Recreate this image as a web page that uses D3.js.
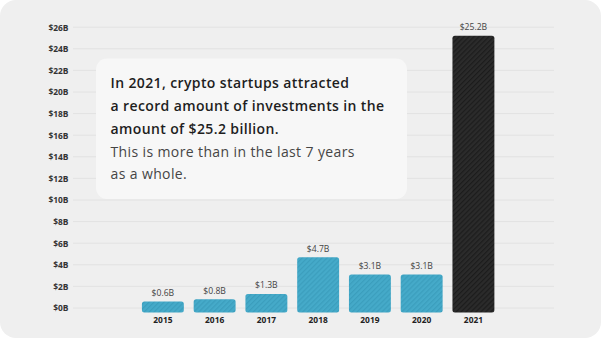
<!DOCTYPE html>
<html><head><meta charset="utf-8">
<script src="https://cdn.jsdelivr.net/npm/d3@7"></script>
<style>html,body{margin:0;padding:0;background:#fff;}svg{display:block;}</style>
</head><body>
<svg id="c" width="602" height="339"></svg>
<script>
const years = ["2015","2016","2017","2018","2019","2020","2021"];
const values = [0.6, 0.8, 1.3, 4.7, 3.1, 3.1, 25.2];
const valueLabels = ["$0.6B","$0.8B","$1.3B","$4.7B","$3.1B","$3.1B","$25.2B"];
const yTicks = [0,2,4,6,8,10,12,14,16,18,20,22,24,26];
const noteBold = ["In 2021, crypto startups attracted","a record amount of investments in the","amount of $25.2 billion."];
const noteLight = ["This is more than in the last 7 years","as a whole."];

const FONT = "'Open Sans', 'Noto Sans', sans-serif";
const svg = d3.select("#c");
const defs = svg.append("defs");
function hatch(id, base, stripe){
  const p = defs.append("pattern").attr("id", id).attr("patternUnits","userSpaceOnUse")
    .attr("width",3.5).attr("height",3.5).attr("patternTransform","rotate(45)");
  p.append("rect").attr("width",3.5).attr("height",3.5).attr("fill",base);
  p.append("rect").attr("width",1.2).attr("height",3.5).attr("fill",stripe);
}
hatch("hb","#45aac9","#3b9ebd");
hatch("hk","#2b2b2b","#1c1c1c");

svg.append("rect").attr("x",0).attr("y",0).attr("width",601).attr("height",338)
  .attr("rx",16).attr("fill","#efefef");

const y = d3.scaleLinear().domain([0,26]).range([308,27.2]);
const x = d3.scaleBand().domain(years).range([137,499.3]).paddingInner(0.19).paddingOuter(0.095);

// grid
svg.append("g").selectAll("line").data(yTicks).join("line")
  .attr("x1",73).attr("x2",554).attr("y1",d=>y(d)).attr("y2",d=>y(d))
  .attr("stroke","#e2e2e2").attr("stroke-width",1);

// y axis labels
const yAxis = d3.axisLeft(y).tickValues(yTicks).tickSize(0).tickPadding(0).tickFormat(d=>"$"+d+"B");
const ga = svg.append("g").attr("transform","translate(68.5,0)").call(yAxis);
ga.select(".domain").remove();
ga.selectAll("text").attr("font-family",FONT).attr("font-size",8.4).attr("font-weight",700)
  .attr("fill","#333").attr("dy","0.35em");

// bars
const data = years.map((yr,i)=>({yr, v:values[i], lab:valueLabels[i]}));
svg.append("g").selectAll("rect").data(data).join("rect")
  .attr("x",d=>x(d.yr)).attr("width",x.bandwidth())
  .attr("y",d=>y(d.v)).attr("height",d=>y(0)+4.5-y(d.v))
  .attr("rx",2.5)
  .attr("fill",d=>d.yr==="2021"?"url(#hk)":"url(#hb)");

// value labels
svg.append("g").selectAll("text").data(data).join("text")
  .attr("x",d=>x(d.yr)+x.bandwidth()/2).attr("y",d=>y(d.v)-5.5)
  .attr("text-anchor","middle").attr("font-family",FONT).attr("font-size",8.6)
  .attr("fill","#444").text(d=>d.lab);

// x axis
const xAxis = d3.axisBottom(x).tickSize(0).tickPadding(0);
const gx = svg.append("g").attr("transform","translate(0,317)").call(xAxis);
gx.select(".domain").remove();
gx.selectAll("text").attr("font-family",FONT).attr("font-size",8.4).attr("font-weight",700)
  .attr("fill","#222").attr("dy","0.71em");

// note box
svg.append("rect").attr("x",96).attr("y",58.5).attr("width",311).attr("height",140.5)
  .attr("rx",11).attr("fill","#f7f7f7");
const t = svg.append("g").attr("font-family",FONT);
noteBold.forEach((s,i)=>{
  t.append("text").attr("x",110.5).attr("y",88.3+i*22.8).attr("font-size",14).attr("font-weight",600)
   .attr("letter-spacing",0.38).attr("fill","#1e1e1e").text(s);
});
noteLight.forEach((s,i)=>{
  t.append("text").attr("x",110.5).attr("y",156.7+i*22.6).attr("font-size",14).attr("font-weight",400)
   .attr("letter-spacing",0.38).attr("fill","#454545").text(s);
});
</script>
</body></html>
